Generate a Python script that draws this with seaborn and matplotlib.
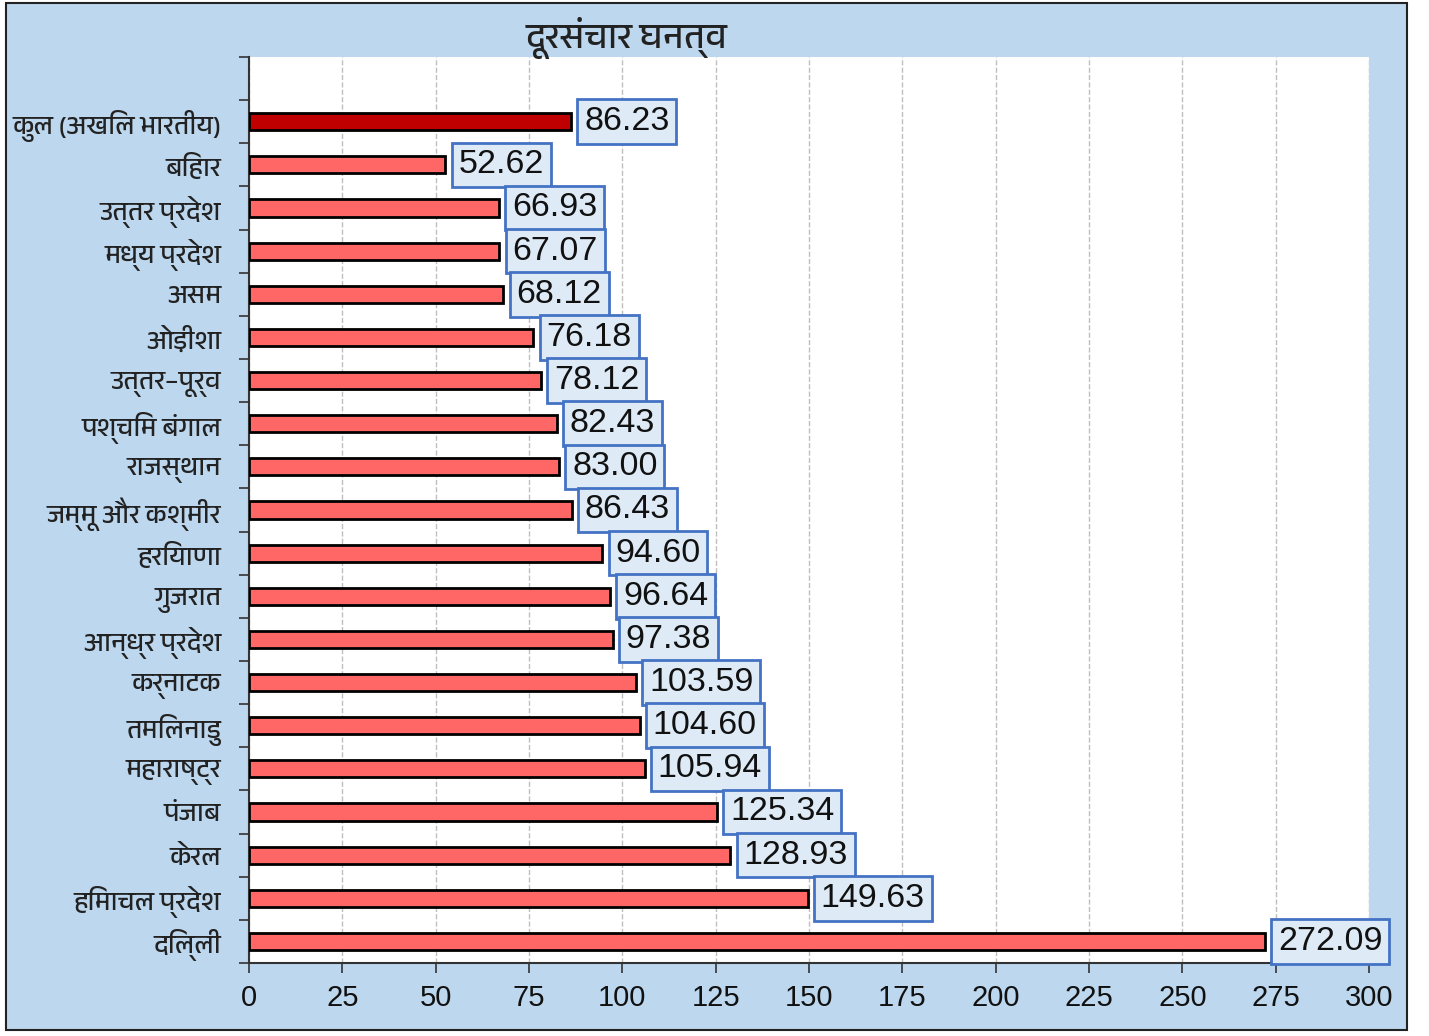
import numpy as np
import pandas as pd
import matplotlib
matplotlib.use("Agg")
import matplotlib.pyplot as plt
from matplotlib import font_manager as fm
from matplotlib.patches import Rectangle
import seaborn as sns

states = ["कुल (अखिल भारतीय)", "बिहार", "उत्तर प्रदेश", "मध्य प्रदेश", "असम",
          "ओड़ीशा", "उत्तर–पूर्व", "पश्चिम बंगाल", "राजस्थान", "जम्मू और कश्मीर",
          "हरियाणा", "गुजरात", "आन्ध्र प्रदेश", "कर्नाटक", "तमिलनाडु",
          "महाराष्ट्र", "पंजाब", "केरल", "हिमाचल प्रदेश", "दिल्ली"]
values = [86.23, 52.62, 66.93, 67.07, 68.12, 76.18, 78.12, 82.43, 83.00, 86.43,
          94.60, 96.64, 97.38, 103.59, 104.60, 105.94, 125.34, 128.93, 149.63, 272.09]
title = "दूरसंचार घनत्व"
xticks = [0, 25, 50, 75, 100, 125, 150, 175, 200, 225, 250, 275, 300]


def find_deva():
    try:
        from fontTools.ttLib import TTFont
    except Exception:
        return None
    entries = sorted({(f.name, f.fname) for f in fm.fontManager.ttflist},
                     key=lambda c: (0 if 'Devanagari' in c[0] else 1, c[0]))
    for name, path in entries:
        try:
            tt = TTFont(path, fontNumber=0, lazy=True)
            cmap = tt.getBestCmap()
            if cmap and 0x0915 in cmap and 0x093F in cmap:
                return name
        except Exception:
            pass
    return None


deva = find_deva()
deva_family = ([deva] if deva else []) + ['Liberation Sans', 'DejaVu Sans']

sns.set_theme(style="white")
plt.rcParams['font.family'] = ['Liberation Sans', 'DejaVu Sans']

df = pd.DataFrame({"state": states, "value": values})
colors = ['#C00000'] + ['#FF6666'] * (len(states) - 1)

fig = plt.figure(figsize=(14.29, 10.36), dpi=100)
fig.patch.set_facecolor('white')
fig.add_artist(Rectangle((6 / 1429, 6 / 1036), 1401 / 1429, 1027 / 1036,
                         transform=fig.transFigure, facecolor='#BDD7EE',
                         edgecolor='#222222', linewidth=1.5, zorder=-10))

ax = fig.add_axes([249 / 1429, 1 - 963 / 1036, 1120 / 1429, (963 - 57) / 1036])
ax.set_facecolor('white')

sns.barplot(data=df, x="value", y="state", hue="state", palette=colors,
            legend=False, orient='h', width=0.4, edgecolor='black',
            linewidth=2, saturation=1, ax=ax, zorder=3)

n = len(states)
ax.set_ylim(n - 0.5, -1.5)
ax.set_xlim(0, 300)
ax.set_xticks(xticks)
ax.set_xticklabels([str(t) for t in xticks], fontsize=21)

# category boundary ticks (major) and labels at category centres (minor)
ax.set_yticks(np.arange(-1.5, n, 1.0))
ax.set_yticklabels([])
ax.set_yticks(np.arange(n), minor=True)
ax.set_yticklabels(states, minor=True, fontsize=19, family=deva_family,
                   color='#222222')
ax.tick_params(axis='y', which='major', length=7, width=1.2, color='#333333',
               direction='out', left=True)
ax.tick_params(axis='y', which='minor', length=0, pad=20)
ax.tick_params(axis='x', which='major', length=7, width=1.2, color='#333333',
               direction='out', bottom=True, pad=8, labelcolor='#111111')

ax.set_xlabel("")
ax.set_ylabel("")
ax.grid(axis='x', linestyle='--', color='#BFBFBF', linewidth=1, zorder=0)
ax.set_axisbelow(True)
for side in ['top', 'right']:
    ax.spines[side].set_visible(False)
for side in ['left', 'bottom']:
    ax.spines[side].set_color('#333333')
    ax.spines[side].set_linewidth(1.5)

for i, v in enumerate(values):
    ax.annotate(f"{v:.2f}", xy=(v, i), xytext=(9.5, 0), textcoords='offset points',
                ha='left', va='center', fontsize=24.5, color='#111111',
                bbox=dict(boxstyle='square,pad=0.2', facecolor='#DEEBF7',
                          edgecolor='#4472C4', linewidth=2),
                zorder=5, annotation_clip=False)

fig.text(627 / 1429, 1 - 38 / 1036, title, ha='center', va='center',
         fontsize=26, fontweight='bold', family=deva_family, color='#222222')

fig.savefig("out.png", dpi=100, facecolor=fig.get_facecolor())
